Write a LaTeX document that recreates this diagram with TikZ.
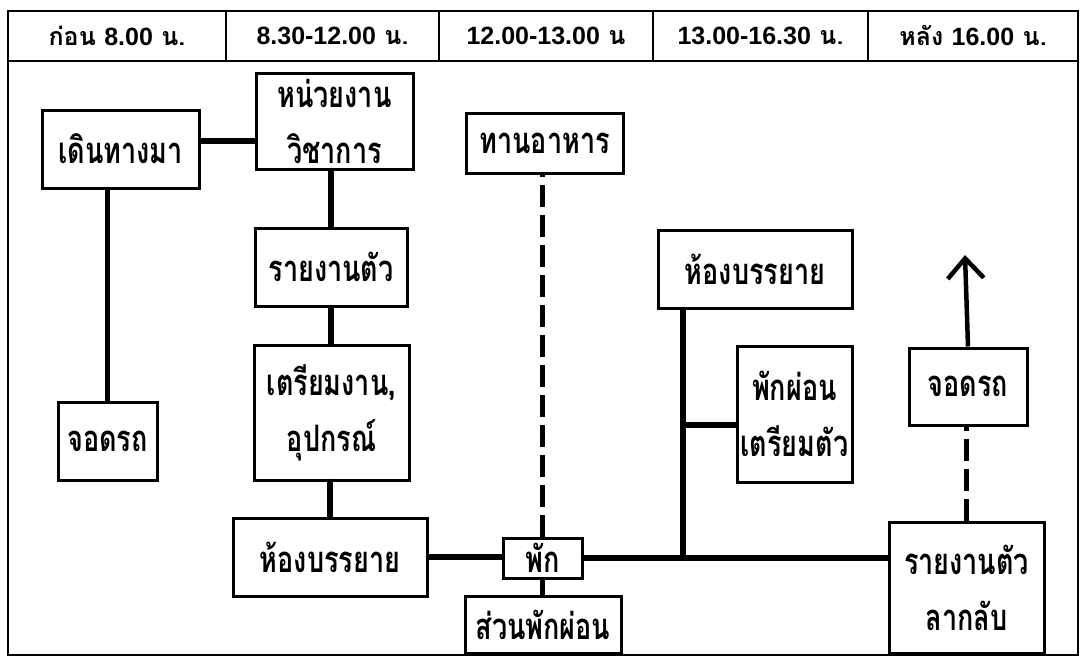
\documentclass[tikz,border=0pt]{standalone}
\usepackage{fontspec}
\usepackage{graphicx}
\newfontfamily\thai[Script=Thai]{Loma}
\newfontfamily\lat{Liberation Sans}
\usetikzlibrary{arrows.meta}
\newcommand{\bt}[1]{\makebox[0pt]{\scalebox{1}[1.35]{#1}}}
\newcommand{\hdtext}[1]{\makebox[0pt]{#1}}
\newcommand{\nm}[1]{{\lat #1}}
\tikzset{
  bx/.style={draw, line width=3pt, inner sep=0pt, align=center,
    font=\thai\bfseries\fontsize{27}{56}\selectfont},
  hd/.style={draw, line width=2.5pt, inner sep=0pt, minimum height=50pt,
    font=\thai\bfseries\fontsize{25}{30}\selectfont},
  conn/.style={line width=5.5pt, line cap=round},
  dconn/.style={line width=5.5pt, dash pattern=on 22pt off 8pt},
  frameline/.style={line width=2.5pt}
}
\begin{document}
\begin{tikzpicture}[x=1pt,y=-1pt]
\useasboundingbox (0,0) rectangle (1081,657);
\fill[white] (0,0) rectangle (1081,657);
% outer frame
\draw[frameline] (8,11) rectangle (1078,655);
% header
\node[hd, minimum width=218pt] (h1) at (117,36) {\hdtext{ก่อน \nm{8.00} น.}};
\node[hd, minimum width=213pt] (h2) at (332.5,36) {\hdtext{\nm{8.30-12.00} น.}};
\node[hd, minimum width=214pt] (h3) at (546,36) {\hdtext{\nm{12.00-13.00} น}};
\node[hd, minimum width=215pt] (h4) at (760.5,36) {\hdtext{\nm{13.00-16.30} น.}};
\node[hd, minimum width=210pt] (h5) at (973,36) {\hdtext{หลัง \nm{16.00} น.}};
% boxes
\node[bx, minimum width=157pt, minimum height=78pt] (walk) at (120.5,149) {\bt{เดินทางมา}};
\node[bx, minimum width=157pt, minimum height=96pt] (acad) at (334.5,121) {\bt{หน่วยงาน}\\\bt{วิชาการ}};
\node[bx, minimum width=152pt, minimum height=78pt] (report) at (331,267) {\bt{รายงานตัว}};
\node[bx, minimum width=155pt, minimum height=135pt] (prep) at (331.5,412.5) {\bt{เตรียมงาน,}\\\bt{อุปกรณ์}};
\node[bx, minimum width=99pt, minimum height=78pt] (park1) at (107.5,441) {\bt{จอดรถ}};
\node[bx, minimum width=194pt, minimum height=78pt] (lect1) at (330,557) {\bt{ห้องบรรยาย}};
\node[bx, minimum width=157pt, minimum height=60pt] (eat) at (544.5,143) {\bt{ทานอาหาร}};
\node[bx, minimum width=79pt, minimum height=40pt] (pak) at (542.5,558) {\bt{พัก}};
\node[bx, minimum width=156pt, minimum height=57pt] (rest) at (543,624.5) {\bt{ส่วนพักผ่อน}};
\node[bx, minimum width=194pt, minimum height=78pt] (lect2) at (755,269) {\bt{ห้องบรรยาย}};
\node[bx, minimum width=115pt, minimum height=136pt] (rp) at (794.5,414) {\bt{พักผ่อน}\\\bt{เตรียมตัว}};
\node[bx, minimum width=118pt, minimum height=77pt] (park2) at (968,386.5) {\bt{จอดรถ}};
\node[bx, minimum width=155pt, minimum height=131pt] (ret) at (966.5,587.5) {\bt{รายงานตัว}\\\bt{ลากลับ}};
% helper coordinates
\coordinate (jx) at (683,0);
\coordinate (tip) at (965,255);
% connectors
\draw[conn] ([yshift=8pt]walk.east) -- ([yshift=8pt]walk.east -| acad.west);
\draw[conn] (park1.north) -- (park1.north |- walk.south);
\draw[conn] (report.north) -- (report.north |- acad.south);
\draw[conn] (report.south) -- (report.south |- prep.north);
\draw[conn] (lect1.north) -- (lect1.north |- prep.south);
\draw[conn] (lect1.east) -- (lect1.east -| pak.west);
\draw[dconn] (pak.north) -- (pak.north |- eat.south);
\draw[conn] (pak.south) -- (pak.south |- rest.north);
\draw[conn] (pak.east) -- (pak.east -| ret.west);
\draw[conn] (jx |- lect2.south) -- (jx |- pak.east);
\draw[conn] ([yshift=-11pt]rp.west -| jx) -- ([yshift=-11pt]rp.west);
\draw[dconn] (ret.north) -- (ret.north |- park2.south);
\draw[line width=4.5pt, -{Straight Barb[length=20pt, width=36pt]}] (park2.north) -- (tip);
\end{tikzpicture}
\end{document}
